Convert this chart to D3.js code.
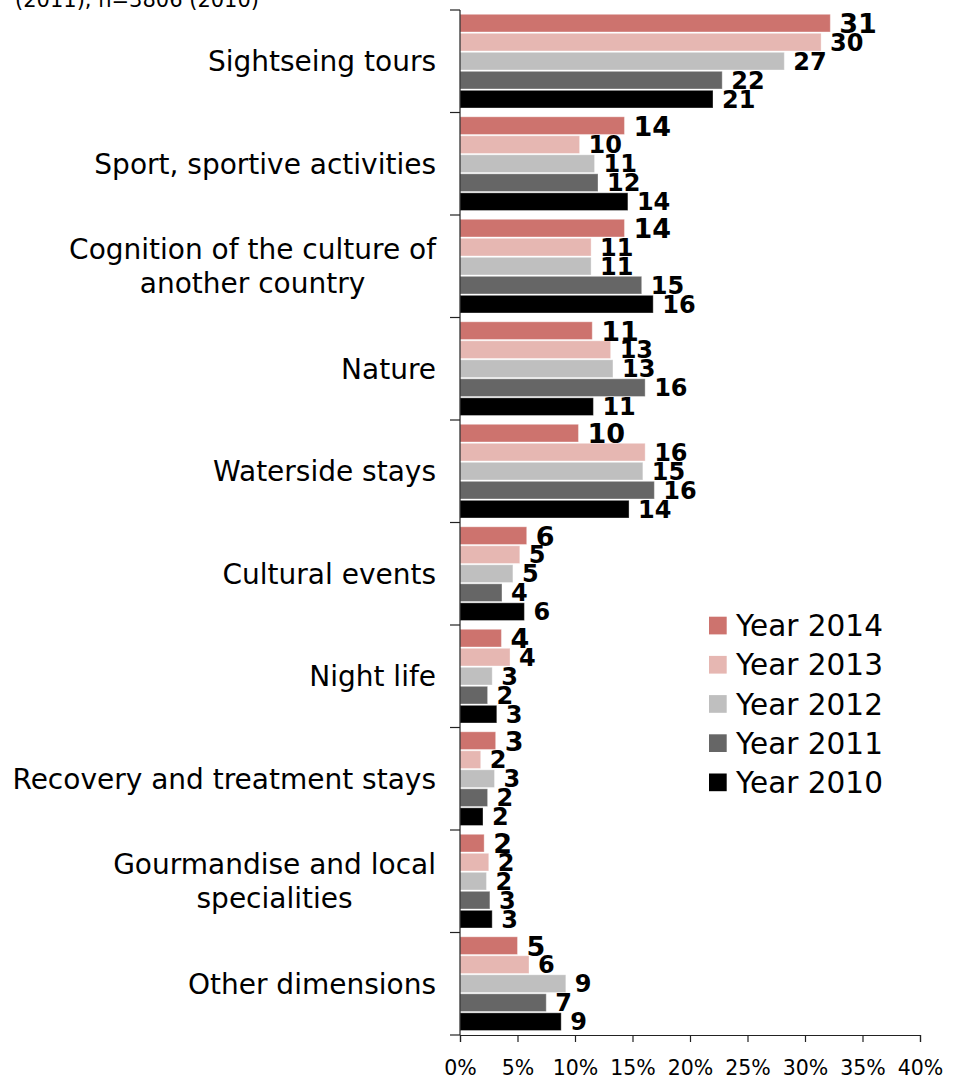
<!DOCTYPE html>
<html>
<head>
<meta charset="utf-8">
<script src="https://cdn.jsdelivr.net/npm/d3@7"></script>
<style>
  html, body { margin: 0; padding: 0; background: #fff; }
  svg { display: block; font-family: "DejaVu Sans", Verdana, sans-serif; }
</style>
</head>
<body>
<svg id="chart" width="959" height="1079"></svg>
<script>
// ---- data ----
const categories = [
  "Sightseing tours",
  "Sport, sportive activities",
  "Cognition of the culture of|another country",
  "Nature",
  "Waterside stays",
  "Cultural events",
  "Night life",
  "Recovery and treatment stays",
  "Gourmandise and local|specialities",
  "Other dimensions"
];
const seriesNames = ["Year 2014", "Year 2013", "Year 2012", "Year 2011", "Year 2010"];
const seriesColors = ["#cd736e", "#e6b7b2", "#bfbfbf", "#666666", "#000000"];
// bar lengths (percent) as drawn
const values2014 = [32.2, 14.3, 14.3, 11.5, 10.3, 5.8, 3.6, 3.1, 2.1, 5.0];
const values2013 = [31.4, 10.4, 11.4, 13.1, 16.1, 5.2, 4.35, 1.8, 2.5, 6.0];
const values2012 = [28.2, 11.7, 11.4, 13.3, 15.9, 4.6, 2.8, 3.0, 2.3, 9.2];
const values2011 = [22.8, 12.0, 15.8, 16.1, 16.9, 3.65, 2.4, 2.4, 2.6, 7.5];
const values2010 = [22.0, 14.6, 16.8, 11.6, 14.7, 5.6, 3.2, 2.0, 2.8, 8.8];
// printed data labels
const labels2014 = [31, 14, 14, 11, 10, 6, 4, 3, 2, 5];
const labels2013 = [30, 10, 11, 13, 16, 5, 4, 2, 2, 6];
const labels2012 = [27, 11, 11, 13, 15, 5, 3, 3, 2, 9];
const labels2011 = [22, 12, 15, 16, 16, 4, 2, 2, 3, 7];
const labels2010 = [21, 14, 16, 11, 14, 6, 3, 2, 3, 9];
const xTicks = [0, 5, 10, 15, 20, 25, 30, 35, 40];
const noteText = "(2011), n=3806 (2010)";

const seriesValues = [values2014, values2013, values2012, values2011, values2010];
const seriesLabels = [labels2014, labels2013, labels2012, labels2011, labels2010];

// ---- layout ----
const svg = d3.select("#chart");
const x0 = 460, x1 = 920, yTop = 10, yBot = 1035;

const x = d3.scaleLinear().domain([0, 40]).range([x0, x1]);
const y = d3.scaleBand().domain(categories).range([yTop, yBot]).padding(0);
const ySub = d3.scaleBand().domain(seriesNames).range([4.3, 98]).paddingInner(0.07).paddingOuter(0);

// note at top (cut off)
svg.append("text").attr("x", 15).attr("y", 7).attr("font-size", 21).attr("fill", "#000").text(noteText);

// bars
const groups = svg.append("g").selectAll("g").data(categories).join("g")
  .attr("transform", d => `translate(0,${y(d)})`);

groups.each(function(cat, ci) {
  const g = d3.select(this);
  seriesNames.forEach((s, si) => {
    const v = seriesValues[si][ci];
    g.append("rect")
      .attr("x", x(0))
      .attr("y", ySub(s))
      .attr("width", x(v) - x(0))
      .attr("height", ySub.bandwidth())
      .attr("fill", seriesColors[si])
      .attr("stroke", "#ffffff")
      .attr("stroke-opacity", 0.35)
      .attr("stroke-width", 1);
  });
  seriesNames.forEach((s, si) => {
    const v = seriesValues[si][ci];
    const fs = si === 0 ? 27 : 24;
    g.append("text")
      .attr("x", x(v) + 9)
      .attr("y", ySub(s) + ySub.bandwidth() / 2 + 0.365 * fs)
      .attr("font-size", fs)
      .attr("font-weight", "bold")
      .attr("fill", "#000")
      .text(seriesLabels[si][ci]);
  });
});

// category labels
groups.each(function(cat) {
  const g = d3.select(this);
  const lines = cat.split("|");
  const lh = 34;
  const cy = y.bandwidth() / 2;
  const t = g.append("g");
  const texts = lines.map((ln, i) => t.append("text")
    .attr("font-size", 28)
    .attr("fill", "#000")
    .attr("text-anchor", "middle")
    .attr("y", cy + (i - (lines.length - 1) / 2) * lh + 0.365 * 28)
    .text(ln));
  const maxW = d3.max(texts, tx => tx.node().getComputedTextLength());
  texts.forEach(tx => tx.attr("x", 436 - maxW / 2));
});

// y axis
const yAxisG = svg.append("g");
yAxisG.append("line").attr("x1", x0).attr("x2", x0).attr("y1", yTop).attr("y2", yBot)
  .attr("stroke", "#222").attr("stroke-width", 1.2);
const boundaries = categories.map(c => y(c)).concat([yBot]);
yAxisG.selectAll("line.tk").data(boundaries).join("line").attr("class", "tk")
  .attr("x1", x0 - 10).attr("x2", x0).attr("y1", d => d).attr("y2", d => d)
  .attr("stroke", "#222").attr("stroke-width", 1.2);

// x axis
const xAxis = d3.axisBottom(x).tickValues(xTicks).tickFormat(d => d + "%").tickSize(7).tickPadding(18);
const xg = svg.append("g").attr("transform", `translate(0,${yBot})`).call(xAxis);
xg.select(".domain").attr("stroke", "#222").attr("stroke-width", 1.2);
xg.selectAll(".tick line").attr("stroke", "#222").attr("stroke-width", 1.2);
xg.selectAll(".tick text").attr("font-size", 20.5).attr("fill", "#000")
  .attr("font-family", "DejaVu Sans, Verdana, sans-serif");

// legend
const lg = svg.append("g");
seriesNames.forEach((s, i) => {
  const cy = 625.5 + i * 39.2;
  lg.append("rect").attr("x", 709).attr("y", cy - 8.8).attr("width", 17.7).attr("height", 17.7)
    .attr("fill", seriesColors[i]);
  lg.append("text").attr("x", 736).attr("y", cy + 0.365 * 29.5).attr("font-size", 29.5)
    .attr("fill", "#000").text(s);
});
</script>
</body>
</html>
